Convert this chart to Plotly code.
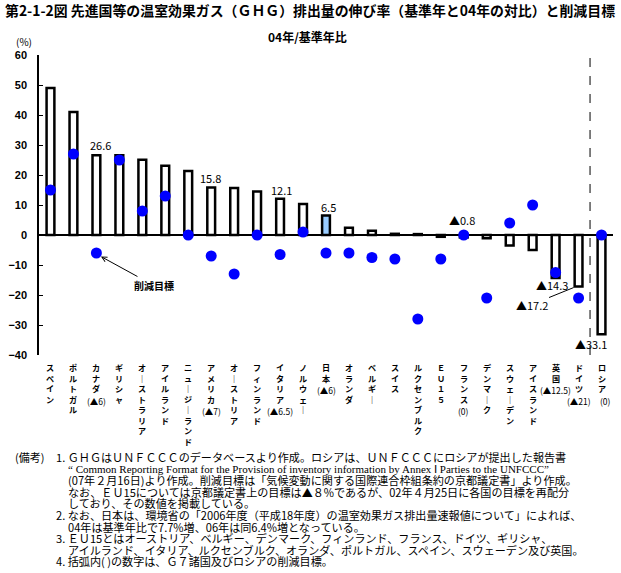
import plotly.graph_objects as go

# ---------------- data ----------------
categories = ["スペイン", "ポルトガル", "カナダ", "ギリシャ", "オーストラリア", "アイルランド",
              "ニュージーランド", "アメリカ", "オーストリア", "フィンランド", "イタリア", "ノルウェー",
              "日本", "オランダ", "ベルギー", "スイス", "ルクセンブルク", "ＥＵ１５", "フランス",
              "デンマーク", "スウェーデン", "アイスランド", "英国", "ドイツ", "ロシア"]
sublabels = ["", "", "(▲6)", "", "", "", "", "(▲7)", "", "", "(▲6.5)", "", "(▲6)", "", "", "",
             "", "", "(0)", "", "", "", "(▲12.5)", "(▲21)", "(0)"]
growth_04 = [49.0, 41.0, 26.6, 26.6, 25.1, 23.1, 21.3, 15.8, 15.7, 14.5, 12.1, 10.3, 6.5, 2.4,
             1.4, 0.4, 0.3, -0.6, -0.8, -1.1, -3.5, -5.0, -14.3, -17.2, -33.1]
targets = [15, 27, -6, 25, 8, 13, 0, -7, -13, 0, -6.5, 1, -6, -6, -7.5, -8, -28, -8, 0, -21, 4,
           10, -12.5, -21, 0]
highlight = "日本"
labelled = ["カナダ", "アメリカ", "イタリア", "日本", "フランス", "英国", "ロシア"]
y_ticks = [60, 50, 40, 30, 20, 10, 0, -10, -20, -30, -40]

title = "第2-1-2図 先進国等の温室効果ガス（ＧＨＧ）排出量の伸び率（基準年と04年の対比）と削減目標"
subtitle = "04年/基準年比"
notes = [
    "1. ＧＨＧはＵＮＦＣＣＣのデータベースより作成。ロシアは、ＵＮＦＣＣＣにロシアが提出した報告書",
    "“ Common Reporting Format for the Provision of inventory information by Annex Ⅰ Parties to the UNFCCC”",
    "(07年２月16日)より作成。削減目標は「気候変動に関する国際連合枠組条約の京都議定書」より作成。",
    "なお、ＥＵ15については京都議定書上の目標は▲８%であるが、02年４月25日に各国の目標を再配分",
    "しており、その数値を掲載している。",
    "2. なお、日本は、環境省の「2006年度（平成18年度）の温室効果ガス排出量速報値について」によれば、",
    "04年は基準年比で7.7%増、06年は同6.4%増となっている。",
    "3. ＥＵ15とはオーストリア、ベルギー、デンマーク、フィンランド、フランス、ドイツ、ギリシャ、",
    "アイルランド、イタリア、ルクセンブルク、オランダ、ポルトガル、スペイン、スウェーデン及び英国。",
    "4. 括弧内( )の数字は、Ｇ７諸国及びロシアの削減目標。",
]

# ---------------- layout geometry ----------------
W, H = 621, 573
L, R, T, B = 36, 8, 55, 218
PW, PH = W - L - R, H - T - B
JP = "Noto Sans CJK JP"
NUM = "Liberation Sans"


def px(x):
    return (x - L) / PW


def py(y):
    return (H - B - y) / PH


def fmt(v):
    return ("▲" if v < 0 else "") + f"{abs(v):.1f}"


fig = go.Figure()
fig.add_trace(go.Bar(
    x=categories, y=growth_04, width=0.34,
    marker=dict(color=["#99CCFF" if c == highlight else "white" for c in categories],
                line=dict(color="black", width=2.5)),
    hoverinfo="x+y", showlegend=False))
fig.add_trace(go.Scatter(
    x=categories, y=targets, mode="markers",
    marker=dict(color="#0000FF", size=11), cliponaxis=False, showlegend=False))

ann = []
# value labels
shifts = {"カナダ": (4, 10), "アメリカ": (-1, 10), "イタリア": (1.5, 8.5), "日本": (2.5, 9),
          "フランス": (-1.3, None), "英国": (-3.5, -7.5), "ロシア": (-10.5, -10)}
for c in labelled:
    i = categories.index(c)
    v = growth_04[i]
    xs, ys = shifts[c]
    yv = v
    if ys is None:
        yv, ys = 0, 15
    ann.append(dict(x=c, y=yv, xref="x", yref="y", text=fmt(v), showarrow=False,
                    xshift=xs, yshift=ys, font=dict(family=JP, size=11, color="black")))
# Germany label with arrow
gi = categories.index("ドイツ")
ann.append(dict(x="ドイツ", y=growth_04[gi], xref="x", yref="y", text=fmt(growth_04[gi]),
                showarrow=True, arrowhead=0, arrowwidth=1, arrowcolor="black",
                ax=-42, ay=17, xshift=-5, yshift=-1, standoff=0,
                font=dict(family=JP, size=11, color="black")))
# 削減目標 label with arrow
ci = categories.index("カナダ")
ann.append(dict(x="カナダ", y=targets[ci], xref="x", yref="y", text="<b>削減目標</b>",
                showarrow=True, arrowhead=5, arrowsize=1, arrowwidth=1, arrowcolor="black",
                ax=53, ay=29, xshift=4.5, yshift=-3.5, standoff=0,
                font=dict(family=JP, size=10, color="black")))

# category labels (vertical, one character per line)
FS = 8.1
PITCH = FS * 1.3
TOP = 361
for c, s in zip(categories, sublabels):
    chars = list(c.replace("ー", "｜"))
    ann.append(dict(x=c, y=py(TOP), xref="x", yref="paper",
                    text="<b>" + "<br>".join(chars) + "</b>",
                    showarrow=False, yanchor="top", borderpad=0,
                    font=dict(family=JP, size=FS, color="black")))
    if s:
        xs = 4 if c == "ロシア" else 0
        ann.append(dict(x=c, y=py(TOP + len(chars) * PITCH + 1), xref="x", yref="paper",
                        text=s, showarrow=False, yanchor="top", xshift=xs, borderpad=0,
                        font=dict(family=JP, size=8.5, color="black")))

# subtitle and unit
ann.append(dict(x=px(306), y=py(37), xref="paper", yref="paper", text="<b>" + subtitle + "</b>",
                showarrow=False, xanchor="center", yanchor="middle",
                font=dict(family=JP, size=12, color="black")))
ann.append(dict(x=px(21), y=py(41), xref="paper", yref="paper", text="(%)",
                showarrow=False, xanchor="center", yanchor="middle",
                font=dict(family=JP, size=10, color="black")))

# notes
ann.append(dict(x=px(10), y=py(457), xref="paper", yref="paper", text="(備考)", xanchor="left",
                yanchor="middle", showarrow=False, font=dict(family=JP, size=11, color="black")))
for k, line in enumerate(notes):
    x0 = 52 if line[:2] in ("1.", "2.", "3.", "4.") else 64
    fam = "Liberation Serif" if line.startswith("“") else JP
    ann.append(dict(x=px(x0), y=py(457 + k * 11.6), xref="paper", yref="paper", text=line,
                    xanchor="left", yanchor="middle", showarrow=False, borderpad=0,
                    font=dict(family=fam, size=11.1 if fam == JP else 11, color="black")))

fig.update_layout(
    width=W, height=H, margin=dict(l=L, r=R, t=T, b=B),
    paper_bgcolor="white", plot_bgcolor="white",
    title=dict(text="<b>" + title + "</b>", x=5 / W, xanchor="left", xref="container",
               y=1 - 11 / H, yanchor="middle", yref="container",
               font=dict(family=JP, size=13.9, color="black")),
    xaxis=dict(type="category", range=[-0.5, len(categories) - 0.5], showticklabels=False,
               showgrid=False, zeroline=False, showline=False, ticks=""),
    yaxis=dict(range=[-40, 60], tickvals=y_ticks, showgrid=False, showline=True,
               linecolor="black", linewidth=1.5, ticks="inside", ticklen=4, tickcolor="black",
               zeroline=True, zerolinecolor="black", zerolinewidth=1.5,
               tickfont=dict(family=NUM, size=11, color="black", weight="bold"),
               ticklabelstandoff=8),
    annotations=ann,
    shapes=[dict(type="line", xref="x", yref="y",
                 x0=categories.index("ロシア") - 0.5, x1=categories.index("ロシア") - 0.5,
                 y0=-40, y1=60, line=dict(color="black", width=1, dash="dash"))],
    bargap=0.5,
)

fig.write_html("out.html")
